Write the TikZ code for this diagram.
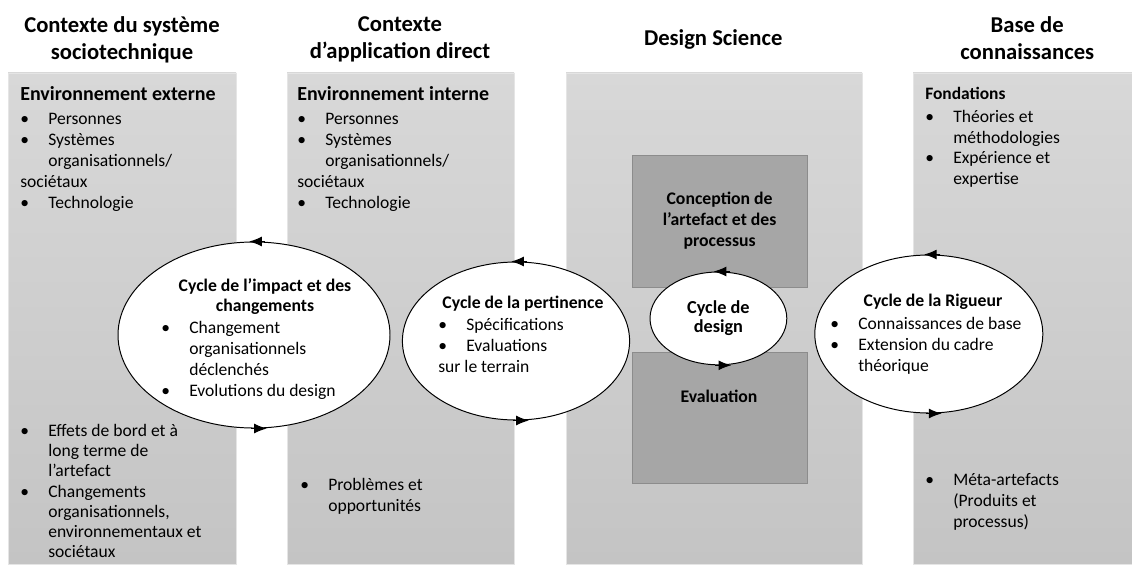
\documentclass[tikz,border=0pt]{standalone}
\usepackage{fontspec}
\setmainfont{Carlito}
\usetikzlibrary{shapes.geometric,arrows.meta}

\definecolor{paneltop}{HTML}{D8D8D8}
\definecolor{panelbot}{HTML}{C4C4C4}
\definecolor{boxfill}{HTML}{A6A6A6}
\definecolor{boxline}{HTML}{8C8C8C}

\newcommand{\itm}{\makebox[0.7cm][l]{\textbullet}}
\newcommand{\indt}{\hspace*{0.7cm}}

\tikzset{
  panel/.style={top color=paneltop, bottom color=panelbot, draw=white!80!gray, line width=0.4pt},
  darkbox/.style={rectangle, draw=boxline, fill=boxfill, inner sep=0pt, line width=0.6pt},
  cyc/.style={ellipse, draw=black, fill=white, line width=0.7pt, inner sep=0pt},
  cycarrow/.style={-{Latex[length=9pt,width=7pt]}, line width=0.7pt},
  coltitle/.style={anchor=north, align=center, inner sep=0pt,
    font=\fontsize{16.1pt}{19.2pt}\selectfont\bfseries, execute at begin node=\strut},
  panelhead/.style={anchor=base west, inner sep=0pt, font=\fontsize{14.2pt}{17pt}\selectfont\bfseries},
  cychead/.style={align=center, inner sep=0pt,
    font=\fontsize{12.6pt}{14pt}\selectfont\bfseries, execute at begin node=\strut},
  boxtext/.style={inner sep=0pt, font=\fontsize{12.6pt}{14.9pt}\selectfont\bfseries},
  txt/.style={anchor=north west, align=left, inner sep=0pt,
    font=\fontsize{12.5pt}{14.9pt}\selectfont, execute at begin node=\strut}
}

\begin{document}
\begin{tikzpicture}
    \useasboundingbox (0,0) rectangle (28.3,14.1);

    % Grey columns
    \path[panel] (0.2,0) rectangle (5.9,12.28);
    \path[panel] (7.18,0) rectangle (12.85,12.28);
    \path[panel] (14.15,0) rectangle (21.55,12.28);
    \path[panel] (22.83,0) rectangle (28.3,12.28);

    % Column titles
    \node[coltitle] (soctitle) at (3.05,13.70) {Contexte du système\\sociotechnique};
    \node[coltitle] (apptitle) at (10.0,13.70) {Contexte\\d’application direct};
    \node[coltitle] (dstitle) at (17.83,13.43) {Design Science};
    \node[coltitle] (kbtitle) at (25.68,13.70) {Base de\\connaissances};

    % Design boxes
    \node[darkbox, boxtext, minimum width=4.38cm, minimum height=3.3cm, align=center]
          (concept) at (17.99,8.575) {Conception de\\l’artefact et des\\processus};
    \node[darkbox, minimum width=4.38cm, minimum height=3.275cm] (evalbox) at (17.99,3.66) {};
    \node[boxtext, anchor=base] (evaltext) at (17.975,4.05) {Evaluation};

    % Cycles
    \node[cyc, minimum width=6.8cm, minimum height=4.65cm] (impact) at (6.35,5.725) {};
    \node[cyc, minimum width=5.68cm, minimum height=3.95cm] (pert) at (12.9,5.575) {};
    \node[cyc, minimum width=3.42cm, minimum height=2.32cm, align=center,
          font=\fontsize{13pt}{13.5pt}\selectfont\bfseries] (design) at (17.96,6.14) {Cycle de\\design};
    \node[cyc, minimum width=5.7cm, minimum height=3.95cm] (rig) at (23.22,5.75) {};

    \node[cychead, anchor=north] (impacthead) at (6.625,7.14) {Cycle de l’impact et des\\changements};
    \node[txt] (impactlist) at (4.025,6.08)
          {\itm Changement\\\indt organisationnels\\\indt déclenchés\\\itm Evolutions du design};

    \node[cychead, anchor=base] (perthead) at (13.075,6.4) {Cycle de la pertinence};
    \node[txt] (pertlist) at (10.95,6.15) {\itm Spécifications\\\itm Evaluations\\sur le terrain};

    \node[cychead, anchor=base] (righead) at (23.325,6.45) {Cycle de la Rigueur};
    \node[txt] (riglist) at (20.75,6.17)
          {\itm Connaissances de base\\\itm Extension du cadre\\\indt théorique};

    % Cycle arrows
    \draw[cycarrow] ([xshift=0.28cm]impact.north) -- ([xshift=-0.12cm]impact.north);
    \draw[cycarrow] ([xshift=-0.08cm]impact.south) -- ([xshift=0.32cm]impact.south);
    \draw[cycarrow] ([xshift=0.28cm]pert.north) -- ([xshift=-0.12cm]pert.north);
    \draw[cycarrow] ([xshift=-0.08cm]pert.south) -- ([xshift=0.32cm]pert.south);
    \draw[cycarrow] ([xshift=0.28cm]design.north) -- ([xshift=-0.12cm]design.north);
    \draw[cycarrow] ([xshift=-0.08cm]design.south) -- ([xshift=0.32cm]design.south);
    \draw[cycarrow] ([xshift=0.28cm]rig.north) -- ([xshift=-0.12cm]rig.north);
    \draw[cycarrow] ([xshift=-0.08cm]rig.south) -- ([xshift=0.32cm]rig.south);

    % External environment
    \node[panelhead] (exthead) at (0.5,11.58) {Environnement externe};
    \node[txt] (extlist) at (0.5,11.28)
          {\itm Personnes\\\itm Systèmes\\\indt organisationnels/\\sociétaux\\\itm Technologie};
    \node[txt, font=\fontsize{12.5pt}{14.35pt}\selectfont] (extout) at (0.5,3.50)
          {\itm Effets de bord et à\\\indt long terme de\\\indt l’artefact\\\itm Changements\\
           \indt organisationnels,\\\indt environnementaux et\\\indt sociétaux};

    % Internal environment
    \node[panelhead] (inthead) at (7.425,11.58) {Environnement interne};
    \node[txt] (intlist) at (7.425,11.28)
          {\itm Personnes\\\itm Systèmes\\\indt organisationnels/\\sociétaux\\\itm Technologie};
    \node[txt] (intout) at (7.5,2.15) {\itm Problèmes et\\\indt opportunités};

    % Knowledge base
    \node[panelhead, font=\fontsize{12.4pt}{14pt}\selectfont\bfseries] (fondhead) at (23.125,11.625) {Fondations};
    \node[txt] (fondlist) at (23.125,11.36)
          {\itm Théories et\\\indt méthodologies\\\itm Expérience et\\\indt expertise};
    \node[txt] (fondout) at (23.125,2.27)
          {\itm Méta-artefacts\\\indt (Produits et\\\indt processus)};
\end{tikzpicture}
\end{document}
